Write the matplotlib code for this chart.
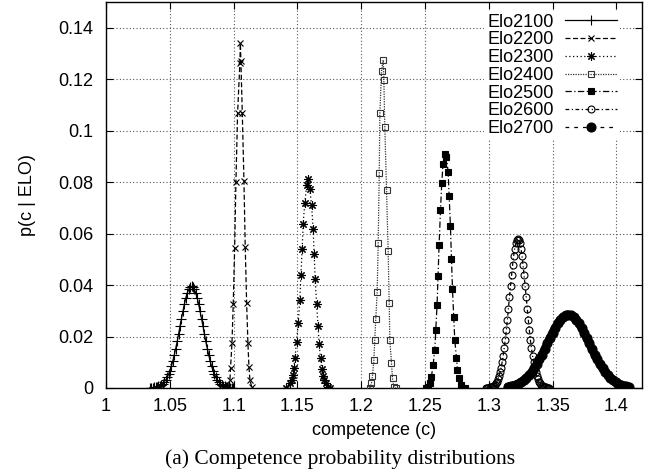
import matplotlib
matplotlib.use('Agg')
import matplotlib.pyplot as plt

plt.rcParams['font.family'] = 'Liberation Sans'

labels = ['Elo2100', 'Elo2200', 'Elo2300', 'Elo2400', 'Elo2500', 'Elo2600', 'Elo2700']

c_2100 = [1.0344, 1.0355, 1.0366, 1.0378, 1.0389, 1.0400, 1.0411, 1.0423, 1.0434, 1.0445,
          1.0456, 1.0468, 1.0479, 1.0490, 1.0501, 1.0513, 1.0524, 1.0535, 1.0546, 1.0558,
          1.0569, 1.0580, 1.0591, 1.0603, 1.0614, 1.0625, 1.0636, 1.0648, 1.0659, 1.0670,
          1.0681, 1.0692, 1.0704, 1.0715, 1.0726, 1.0737, 1.0749, 1.0760, 1.0771, 1.0782,
          1.0794, 1.0805, 1.0816, 1.0827, 1.0839, 1.0850, 1.0861, 1.0872, 1.0884, 1.0895,
          1.0906, 1.0917, 1.0929, 1.0940, 1.0951, 1.0962, 1.0974, 1.0985, 1.0996]
p_2100 = [0.0000, 0.0001, 0.0001, 0.0002, 0.0003, 0.0004, 0.0006, 0.0009, 0.0013, 0.0017,
          0.0024, 0.0031, 0.0041, 0.0053, 0.0068, 0.0085, 0.0106, 0.0128, 0.0153, 0.0181,
          0.0210, 0.0240, 0.0269, 0.0298, 0.0325, 0.0349, 0.0368, 0.0383, 0.0392, 0.0395,
          0.0392, 0.0383, 0.0368, 0.0349, 0.0325, 0.0298, 0.0269, 0.0240, 0.0210, 0.0181,
          0.0153, 0.0128, 0.0106, 0.0085, 0.0068, 0.0053, 0.0041, 0.0031, 0.0024, 0.0017,
          0.0013, 0.0009, 0.0006, 0.0004, 0.0003, 0.0002, 0.0001, 0.0001, 0.0000]

c_2200 = [1.0958, 1.0971, 1.0976, 1.0987, 1.0997, 1.1008, 1.1018, 1.1031, 1.1049, 1.1053,
          1.1057, 1.1068, 1.1081, 1.1091, 1.1102, 1.1112, 1.1120, 1.1128, 1.1141]
p_2200 = [0.0005, 0.0031, 0.0078, 0.0175, 0.0326, 0.0543, 0.0800, 0.1067, 0.1262, 0.1339,
          0.1270, 0.1068, 0.0803, 0.0547, 0.0330, 0.0175, 0.0081, 0.0031, 0.0005]

c_2300 = [1.1410, 1.1441, 1.1454, 1.1462, 1.1472, 1.1480, 1.1493, 1.1506, 1.1519, 1.1527,
          1.1537, 1.1545, 1.1558, 1.1572, 1.1584, 1.1597, 1.1611, 1.1623, 1.1631, 1.1639,
          1.1650, 1.1662, 1.1670, 1.1681, 1.1689, 1.1697, 1.1707, 1.1723, 1.1741, 1.1754]
p_2300 = [0.0000, 0.0018, 0.0031, 0.0050, 0.0076, 0.0115, 0.0180, 0.0253, 0.0341, 0.0438,
          0.0539, 0.0639, 0.0720, 0.0787, 0.0811, 0.0772, 0.0710, 0.0619, 0.0522, 0.0425,
          0.0326, 0.0240, 0.0170, 0.0115, 0.0074, 0.0047, 0.0031, 0.0018, 0.0005, 0.0000]

c_2400 = [1.2067, 1.2080, 1.2088, 1.2099, 1.2106, 1.2114, 1.2125, 1.2133, 1.2141, 1.2146,
          1.2159, 1.2172, 1.2177, 1.2185, 1.2198, 1.2211, 1.2219, 1.2224, 1.2237, 1.2245,
          1.2255, 1.2271]
p_2400 = [0.0000, 0.0018, 0.0047, 0.0109, 0.0186, 0.0270, 0.0374, 0.0565, 0.0835, 0.1068,
          0.1230, 0.1275, 0.1197, 0.1014, 0.0770, 0.0533, 0.0329, 0.0186, 0.0096, 0.0038,
          0.0005, 0.0000]

c_2500 = [1.2506, 1.2524, 1.2537, 1.2550, 1.2563, 1.2576, 1.2584, 1.2594, 1.2602, 1.2610,
          1.2621, 1.2631, 1.2641, 1.2655, 1.2668, 1.2681, 1.2689, 1.2699, 1.2707, 1.2715,
          1.2725, 1.2733, 1.2746, 1.2754, 1.2767, 1.2785, 1.2811]
p_2500 = [0.0000, 0.0005, 0.0018, 0.0044, 0.0089, 0.0147, 0.0225, 0.0322, 0.0434, 0.0557,
          0.0690, 0.0798, 0.0872, 0.0910, 0.0897, 0.0839, 0.0745, 0.0628, 0.0503, 0.0383,
          0.0274, 0.0186, 0.0118, 0.0070, 0.0038, 0.0012, 0.0000]

c_2600 = [1.2981, 1.2989, 1.2997, 1.3006, 1.3014, 1.3022, 1.3030, 1.3038, 1.3047, 1.3055,
          1.3063, 1.3071, 1.3079, 1.3088, 1.3096, 1.3104, 1.3112, 1.3120, 1.3129, 1.3137,
          1.3145, 1.3153, 1.3161, 1.3170, 1.3178, 1.3186, 1.3194, 1.3202, 1.3211, 1.3219,
          1.3227,
          1.3235, 1.3243, 1.3252, 1.3260, 1.3268, 1.3276, 1.3284, 1.3293, 1.3301, 1.3309,
          1.3317, 1.3325, 1.3334, 1.3342, 1.3350, 1.3358, 1.3366, 1.3375, 1.3383, 1.3391,
          1.3399, 1.3407, 1.3416, 1.3424, 1.3432, 1.3440, 1.3448, 1.3457, 1.3465, 1.3473]
p_2600 = [0.0001, 0.0001, 0.0001, 0.0002, 0.0003, 0.0004, 0.0006, 0.0009, 0.0013, 0.0019,
          0.0025, 0.0035, 0.0046, 0.0061, 0.0078, 0.0100, 0.0125, 0.0155, 0.0188, 0.0225,
          0.0266, 0.0308, 0.0352, 0.0396, 0.0438, 0.0477, 0.0512, 0.0541, 0.0562, 0.0575,
          0.0580,
          0.0575, 0.0562, 0.0541, 0.0512, 0.0477, 0.0438, 0.0396, 0.0352, 0.0308, 0.0266,
          0.0225, 0.0188, 0.0155, 0.0125, 0.0100, 0.0078, 0.0061, 0.0046, 0.0035, 0.0025,
          0.0019, 0.0013, 0.0009, 0.0006, 0.0004, 0.0003, 0.0002, 0.0001, 0.0001, 0.0001]

c_2700 = [1.3149, 1.3170, 1.3190, 1.3211, 1.3232, 1.3252, 1.3273, 1.3293, 1.3314, 1.3335,
          1.3355, 1.3376, 1.3396, 1.3417, 1.3438, 1.3458, 1.3479, 1.3499, 1.3520, 1.3541,
          1.3561, 1.3582, 1.3602, 1.3623, 1.3644, 1.3664, 1.3685, 1.3705, 1.3726, 1.3747,
          1.3767, 1.3788, 1.3808, 1.3829, 1.3850, 1.3870, 1.3891, 1.3911, 1.3932, 1.3953,
          1.3973, 1.3994, 1.4014, 1.4035, 1.4056, 1.4076, 1.4097]
p_2700 = [0.0005, 0.0006, 0.0009, 0.0013, 0.0017, 0.0023, 0.0030, 0.0039, 0.0049, 0.0062,
          0.0076, 0.0093, 0.0111, 0.0130, 0.0151, 0.0173, 0.0194, 0.0215, 0.0234, 0.0252,
          0.0266, 0.0276, 0.0283, 0.0285, 0.0283, 0.0276, 0.0266, 0.0252, 0.0234, 0.0215,
          0.0194, 0.0173, 0.0151, 0.0130, 0.0111, 0.0093, 0.0076, 0.0062, 0.0049, 0.0039,
          0.0030, 0.0023, 0.0017, 0.0013, 0.0009, 0.0006, 0.0005]

x_ticks = [1.0, 1.05, 1.1, 1.15, 1.2, 1.25, 1.3, 1.35, 1.4]
x_tick_labels = ['1', '1.05', '1.1', '1.15', '1.2', '1.25', '1.3', '1.35', '1.4']
y_ticks = [0, 0.02, 0.04, 0.06, 0.08, 0.1, 0.12, 0.14]
y_tick_labels = ['0', '0.02', '0.04', '0.06', '0.08', '0.1', '0.12', '0.14']

series = [(c_2100, p_2100), (c_2200, p_2200), (c_2300, p_2300), (c_2400, p_2400),
          (c_2500, p_2500), (c_2600, p_2600), (c_2700, p_2700)]

# gnuplot-like point/line types
styles = [
    dict(ls='-', marker='+', ms=6.5, mew=0.8, color='black'),
    dict(ls=(0, (4, 2)), marker='x', ms=5, mew=0.8, color='black'),
    dict(ls=(0, (1, 2)), marker=(8, 2, 0), ms=6, mew=0.8, color='black'),
    dict(ls=(0, (1, 1)), marker='s', ms=5, mew=0.8, mfc='none', color='#333333'),
    dict(ls=(0, (5, 2, 1, 2)), marker='s', ms=5, mew=0.8, color='black'),
    dict(ls=(0, (3, 2, 1, 2)), marker='o', ms=5, mew=0.8, mfc='none', color='black'),
    dict(ls=(0, (3, 4)), marker='o', ms=6.5, mew=0.8, color='black'),
]

fig = plt.figure(figsize=(6.53, 4.74), dpi=100)
ax = fig.add_axes([106 / 653, 86 / 474, 536 / 653, 386 / 474])

handles = []
for (c, p), st, lab in zip(series, styles, labels):
    if lab == 'Elo2700':
        ax.plot(c, p, '-', color='black', lw=6, solid_capstyle='round', zorder=2)
    h, = ax.plot(c, p, lw=0.9, label=lab, zorder=3, **st)
    handles.append(h)

ax.set_xlim(1.0, 1.42)
ax.set_ylim(0, 0.15)
ax.set_xticks(x_ticks)
ax.set_xticklabels(x_tick_labels)
ax.set_yticks(y_ticks)
ax.set_yticklabels(y_tick_labels)
ax.tick_params(direction='in', top=True, right=True, length=5, labelsize=13)
ax.tick_params(axis='x', pad=7)
ax.tick_params(axis='y', pad=9)
ax.grid(True, ls=(0, (1, 2)), color='#555555', lw=0.8)
ax.set_axisbelow(True)
for s in ax.spines.values():
    s.set_linewidth(1.0)

ax.set_xlabel('competence (c)', fontsize=13, labelpad=5)
ax.set_ylabel('p(c | ELO)', fontsize=13, labelpad=16)

leg = ax.legend(handles=handles, loc='upper right', bbox_to_anchor=(0.975, 1.0),
                markerfirst=False, fontsize=13, handlelength=2.9, labelspacing=0.04,
                frameon=True, fancybox=False, borderpad=0.15, handletextpad=0.6)
leg.get_frame().set_edgecolor('none')
leg.get_frame().set_facecolor('white')
leg.get_frame().set_alpha(1.0)

fig.text(0.521, 0.032, '(a) Competence probability distributions', ha='center',
         va='center', fontsize=15.5, family='Liberation Serif')

fig.savefig('out.png', dpi=100)
